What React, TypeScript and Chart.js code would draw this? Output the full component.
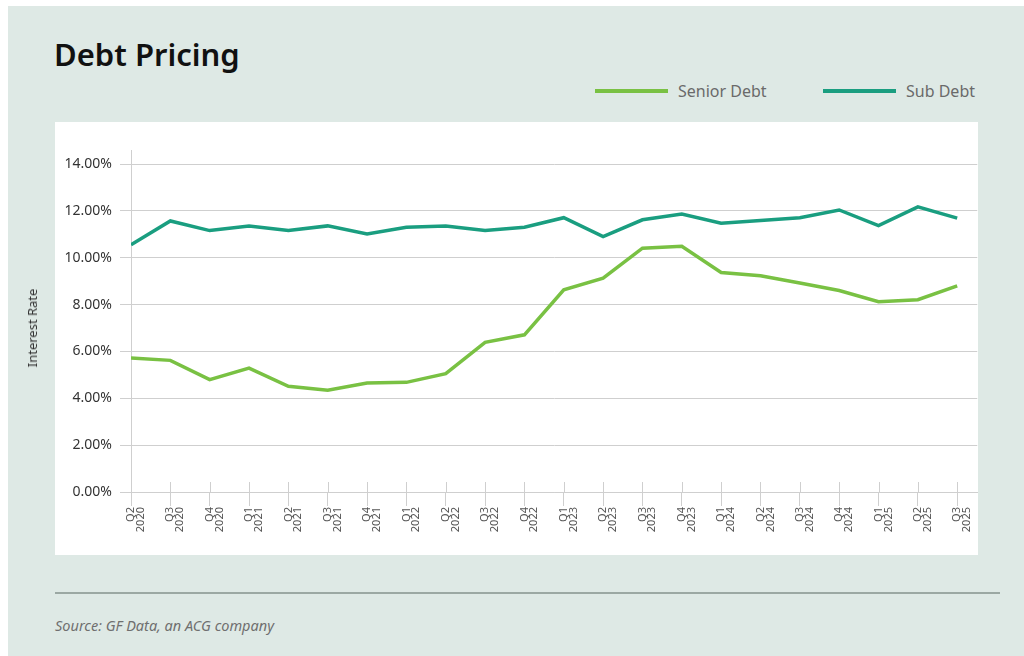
import React, { useEffect, useRef } from "react";
import { Chart, registerables } from "chart.js";

Chart.register(...registerables);

const quarters = [
  "Q2 2020", "Q3 2020", "Q4 2020",
  "Q1 2021", "Q2 2021", "Q3 2021", "Q4 2021",
  "Q1 2022", "Q2 2022", "Q3 2022", "Q4 2022",
  "Q1 2023", "Q2 2023", "Q3 2023", "Q4 2023",
  "Q1 2024", "Q2 2024", "Q3 2024", "Q4 2024",
  "Q1 2025", "Q2 2025", "Q3 2025",
];

const seniorDebt = [
  5.72, 5.62, 4.8, 5.29, 4.51, 4.34, 4.65, 4.68, 5.05, 6.39, 6.71,
  8.63, 9.13, 10.41, 10.49, 9.37, 9.23, 8.92, 8.6, 8.12, 8.21, 8.8,
];

const subDebt = [
  10.55, 11.57, 11.16, 11.36, 11.16, 11.36, 11.02, 11.3, 11.36, 11.16, 11.3,
  11.71, 10.9, 11.62, 11.87, 11.47, 11.59, 11.71, 12.04, 11.37, 12.17, 11.69,
];

const seriesNames = ["Senior Debt", "Sub Debt"];
const seriesColors = ["#79c143", "#1a9e80"];

const yTicks = [0, 2, 4, 6, 8, 10, 12, 14];

const FONT = "'Noto Sans', 'Open Sans', sans-serif";
const GRID = "#cfcfcf";

export default function App() {
  const canvasRef = useRef<HTMLCanvasElement | null>(null);

  useEffect(() => {
    const canvas = canvasRef.current;
    if (!canvas) return;

    const crossTicks = {
      id: "crossTicks",
      beforeDatasetsDraw(chart: any) {
        const { ctx, chartArea } = chart;
        const xs = chart.scales.x;
        ctx.save();
        ctx.strokeStyle = GRID;
        ctx.lineWidth = 1;
        quarters.forEach((_, i) => {
          const px = Math.round(xs.getPixelForValue(i)) + 0.5;
          ctx.beginPath();
          ctx.moveTo(px, chartArea.bottom - 10);
          ctx.lineTo(px, chartArea.bottom);
          ctx.stroke();
        });
        ctx.restore();
      },
    };

    const chart = new Chart(canvas, {
      type: "line",
      data: {
        datasets: [seniorDebt, subDebt].map((arr, k) => ({
          label: seriesNames[k],
          data: arr.map((v, i) => ({ x: i, y: v })),
          borderColor: seriesColors[k],
          backgroundColor: seriesColors[k],
          borderWidth: 3.5,
          pointRadius: 0,
          tension: 0,
          fill: false,
        })),
      },
      options: {
        animation: false,
        responsive: false,
        maintainAspectRatio: false,
        layout: { padding: { top: 28, left: 0, right: 0, bottom: 0 } },
        plugins: {
          legend: { display: false },
          tooltip: { enabled: false },
        },
        scales: {
          x: {
            type: "linear",
            min: 0,
            max: 21.51,
            afterBuildTicks: (s: any) => {
              s.ticks = quarters.map((_, i) => ({ value: i }));
            },
            afterFit: (s: any) => {
              s.height = 63;
            },
            ticks: {
              autoSkip: false,
              minRotation: 90,
              maxRotation: 90,
              padding: 1,
              color: "#555",
              font: { family: FONT, size: 11, lineHeight: 0.9 },
              callback: (v: any) => {
                const q = quarters[Math.round(Number(v))];
                return q ? q.split(" ") : "";
              },
            },
            grid: {
              drawOnChartArea: false,
              drawTicks: true,
              tickLength: 14,
              color: GRID,
            },
            border: { display: true, color: GRID },
          },
          y: {
            min: 0,
            max: 14.6,
            afterBuildTicks: (s: any) => {
              s.ticks = yTicks.map((v) => ({ value: v }));
            },
            afterFit: (s: any) => {
              s.width = 123;
            },
            ticks: {
              padding: 8,
              color: "#333",
              font: { family: FONT, size: 14 },
              callback: (v: any) => Number(v).toFixed(2) + "%",
            },
            grid: { color: GRID, tickLength: 11 },
            border: { display: true, color: GRID },
          },
        },
      },
      plugins: [crossTicks],
    });

    return () => chart.destroy();
  }, []);

  return (
    <div
      style={{
        position: "absolute",
        left: 8,
        top: 6,
        width: 1016,
        height: 650,
        background: "#dee9e5",
        fontFamily: FONT,
        overflow: "hidden",
      }}
    >
      <div
        style={{
          position: "absolute",
          left: 46,
          top: 28,
          fontSize: 31,
          fontWeight: 600,
          color: "#111",
          lineHeight: "40px",
          whiteSpace: "nowrap",
        }}
      >
        Debt Pricing
      </div>

      {seriesNames.map((name, k) => (
        <div
          key={name}
          style={{
            position: "absolute",
            left: k === 0 ? 587 : 815,
            top: 73,
            height: 24,
            display: "flex",
            alignItems: "center",
            whiteSpace: "nowrap",
          }}
        >
          <span
            style={{
              display: "inline-block",
              width: 73,
              height: 4,
              background: seriesColors[k],
              marginRight: 10,
            }}
          />
          <span style={{ fontSize: 16, color: "#6a6a6a" }}>{name}</span>
        </div>
      ))}

      <div
        style={{
          position: "absolute",
          left: 47,
          top: 116,
          width: 923,
          height: 433,
          background: "#ffffff",
        }}
      />

      <canvas
        ref={canvasRef}
        width={970}
        height={433}
        style={{ position: "absolute", left: 0, top: 116, width: 970, height: 433 }}
      />

      <div
        style={{
          position: "absolute",
          left: 24,
          top: 322,
          transform: "translate(-50%, -50%) rotate(-90deg)",
          fontSize: 13,
          color: "#333",
          whiteSpace: "nowrap",
        }}
      >
        Interest Rate
      </div>

      <div
        style={{
          position: "absolute",
          left: 47,
          top: 586,
          width: 945,
          height: 2,
          background: "#9ba8a3",
        }}
      />

      <div
        style={{
          position: "absolute",
          left: 47,
          top: 609,
          fontSize: 14.5,
          fontStyle: "italic",
          color: "#6f6f6f",
          whiteSpace: "nowrap",
        }}
      >
        Source: GF Data, an ACG company
      </div>
    </div>
  );
}
